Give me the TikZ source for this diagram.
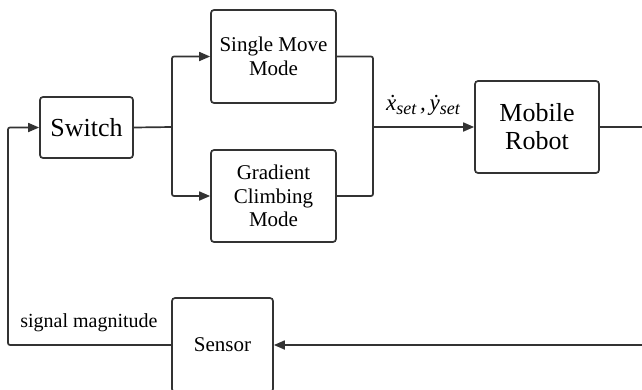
\documentclass[tikz,border=0pt]{standalone}
\usepackage{fontspec}
\setmainfont{Liberation Serif}
\newfontfamily\tnr{Liberation Serif}
\usetikzlibrary{arrows.meta}
\definecolor{linec}{HTML}{333333}
\begin{document}
\begin{tikzpicture}[x=1pt,y=-1pt,
  blk/.style={draw=linec, line width=1.7pt, rounded corners=3pt, inner sep=0pt, align=center, text=black},
  conn/.style={draw=linec, line width=1.7pt, rounded corners=2pt},
  arr/.style={conn, -{Triangle[length=11pt,width=9pt]}},
  big/.style={font=\tnr\fontsize{26}{28}\selectfont},
  mid/.style={font=\tnr\fontsize{21}{23.5}\selectfont},
  lbl/.style={inner sep=0pt, text=black}]
\useasboundingbox (0,0) rectangle (642,389);
\clip (0,0) rectangle (642,389);
\node[blk, big, minimum width=93pt, minimum height=61pt] (sw) at (86.5,127.5) {Switch};
\node[blk, mid, minimum width=125pt, minimum height=93pt] (sm) at (273.5,56.5) {Single Move\\Mode};
\node[blk, mid, minimum width=125pt, minimum height=92pt] (gc) at (273.5,196) {Gradient\\Climbing\\Mode};
\node[blk, big, minimum width=124pt, minimum height=92pt] (mr) at (537,127) {Mobile\\Robot};
\node[blk, mid, minimum width=101pt, minimum height=94pt] (se) at (222.5,345) {Sensor};
\coordinate (split) at (172,127);
\coordinate (merge) at (373,127);
\coordinate (rout) at (660,127);
\coordinate (rin) at (660,345);
\coordinate (lc) at (8,345);
\draw[conn] (sw.east) -- (split);
\draw[arr] (split) |- (sm.west);
\draw[arr] (split) |- (gc.west);
\draw[conn] (sm.east) -| (merge);
\draw[conn] (gc.east) -| (merge);
\draw[arr] (merge) -- (mr.west);
\draw[arr] (mr.east) -- (rout) -- (rin) -- (se.east);
\draw[arr] (se.west) -- (lc) |- (sw.west);
\node[lbl, font=\tnr\fontsize{20}{22}\selectfont] (sig) at (89,323) {signal magnitude};
\node[lbl, font=\tnr\fontsize{23}{24}\selectfont\itshape] (xy) at (423,105) {\.{x}\raisebox{-0.4ex}{\fontsize{18}{19}\selectfont set}\,,\,\.{y}\raisebox{-0.4ex}{\fontsize{18}{19}\selectfont set}};
\end{tikzpicture}
\end{document}
